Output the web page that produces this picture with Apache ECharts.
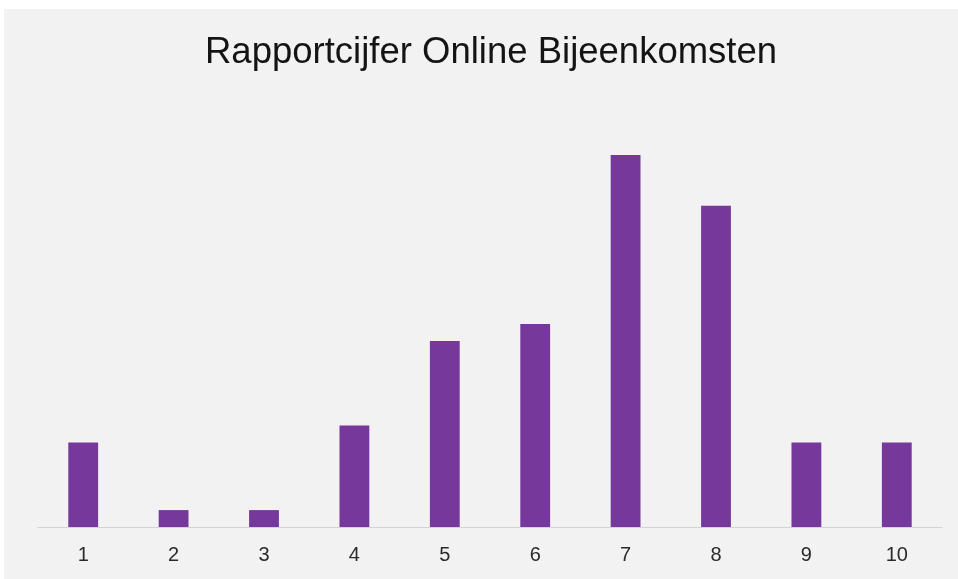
<!DOCTYPE html>
<html>
<head>
<meta charset="utf-8">
<script src="https://cdn.jsdelivr.net/npm/echarts@6/dist/echarts.min.js"></script>
<style>
html,body{margin:0;padding:0;background:#ffffff;width:958px;height:579px;overflow:hidden;}
#chart{position:absolute;left:4px;top:9px;width:954px;height:570px;}
</style>
</head>
<body>
<div id="chart"></div>
<script>
const titleText = 'Rapportcijfer Online Bijeenkomsten';
const categories = ['1','2','3','4','5','6','7','8','9','10'];
const counts = [5, 1, 1, 6, 11, 12, 22, 19, 5, 5];

const chart = echarts.init(document.getElementById('chart'));
chart.setOption({
  backgroundColor: '#f2f2f2',
  animation: false,
  title: {
    text: titleText,
    left: 201,
    top: 25,
    padding: 0,
    textStyle: {
      fontFamily: 'Liberation Sans, Arial, sans-serif',
      fontSize: 36.5,
      fontWeight: 'normal',
      color: '#141414'
    }
  },
  grid: { left: 34, right: 16, top: 146, bottom: 52 },
  xAxis: {
    type: 'category',
    data: categories,
    axisLine: { lineStyle: { color: '#d4d4d4', width: 1 } },
    axisTick: { show: false },
    axisLabel: {
      margin: 18,
      fontSize: 20,
      color: '#2a2a2a',
      fontFamily: 'Liberation Sans, Arial, sans-serif'
    }
  },
  yAxis: {
    type: 'value',
    min: 0,
    max: 22,
    show: false,
    splitLine: { show: false }
  },
  series: [{
    type: 'bar',
    data: counts,
    barWidth: '33%',
    itemStyle: { color: '#77389c' }
  }]
});
</script>
</body>
</html>
